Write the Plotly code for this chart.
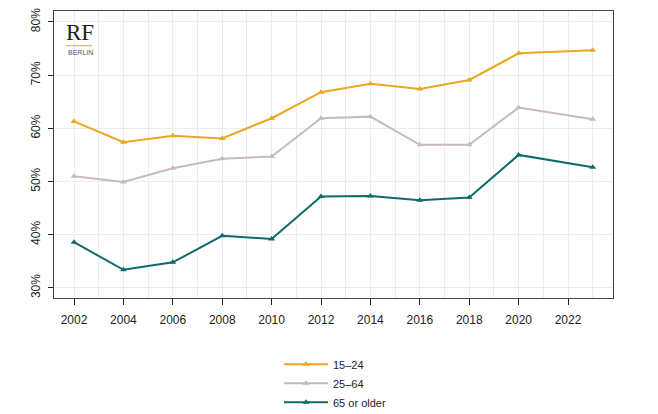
import plotly.graph_objects as go

years = [2002, 2004, 2006, 2008, 2010, 2012, 2014, 2016, 2018, 2020, 2023]
youth_15_24 = [61.3, 57.4, 58.6, 58.1, 61.9, 66.8, 68.4, 67.4, 69.1, 74.1, 74.7]
adult_25_64 = [51.0, 49.9, 52.5, 54.3, 54.7, 61.9, 62.2, 56.9, 56.9, 63.9, 61.7]
senior_65 = [38.6, 33.4, 34.8, 39.8, 39.2, 47.2, 47.3, 46.5, 47.0, 55.0, 52.7]

series_names = ["15\u201324", "25\u201364", "65 or older"]
series_colors = ["#EBA624", "#C9BABA", "#0F6B68"]

x_ticks = [2002, 2004, 2006, 2008, 2010, 2012, 2014, 2016, 2018, 2020, 2022]
y_ticks = [30, 40, 50, 60, 70, 80]

fig = go.Figure()
for name, vals, col in zip(series_names, [youth_15_24, adult_25_64, senior_65], series_colors):
    fig.add_trace(go.Scatter(
        x=years, y=vals, name=name, mode="lines+markers",
        line=dict(color=col, width=2),
        marker=dict(symbol="triangle-up", size=6, color=col),
    ))

font_family = "Liberation Sans, Arial, sans-serif"

fig.update_layout(
    width=650, height=406,
    margin=dict(l=46, r=45, t=3, b=116, autoexpand=False),
    paper_bgcolor="white", plot_bgcolor="white",
    font=dict(family=font_family, size=11, color="#222"),
    showlegend=True,
    legend=dict(
        orientation="v", x=0.4025, y=0.158, xref="paper", yref="container",
        xanchor="left", yanchor="top",
        font=dict(size=11, color="#222"), itemwidth=44,
        tracegroupgap=0, bgcolor="rgba(0,0,0,0)",
    ),
    xaxis=dict(
        range=[2001.19, 2023.82],
        tickvals=x_ticks, ticktext=[str(v) for v in x_ticks],
        ticks="outside", ticklen=6, tickcolor="#222",
        showgrid=False, zeroline=False,
        showline=True, linecolor="#444", linewidth=1.2, mirror=True,
        minor=dict(dtick=1, tick0=2002, showgrid=True, gridcolor="#ececec", gridwidth=1),
        tickfont=dict(size=12),
        ticklabelstandoff=4,
        ticklabeloverflow="allow",
    ),
    yaxis=dict(
        range=[28.1, 82.06],
        tickvals=y_ticks, ticktext=[f"{v}%" for v in y_ticks],
        tickangle=-90,
        ticks="outside", ticklen=5, tickcolor="#222",
        showgrid=True, gridcolor="#ececec", gridwidth=1,
        zeroline=False,
        showline=True, linecolor="#444", linewidth=1.2, mirror=True,
        tickfont=dict(size=12),
        ticklabelstandoff=3,
        ticklabeloverflow="allow",
    ),
)

# RF Berlin logo
fig.add_annotation(xref="paper", yref="paper", x=0.017, y=0.975, xanchor="left", yanchor="top",
                   text="RF", showarrow=False,
                   font=dict(family="Liberation Serif, DejaVu Serif, serif", size=23, color="#222"))
fig.add_shape(type="line", xref="paper", yref="paper", x0=0.022, x1=0.068, y0=0.879, y1=0.879,
              line=dict(color="#C9A85A", width=1))
fig.add_annotation(xref="paper", yref="paper", x=0.021, y=0.873, xanchor="left", yanchor="top",
                   text="BERLIN", showarrow=False,
                   font=dict(family=font_family, size=7, color="#555"))

fig.write_html("out.html")
